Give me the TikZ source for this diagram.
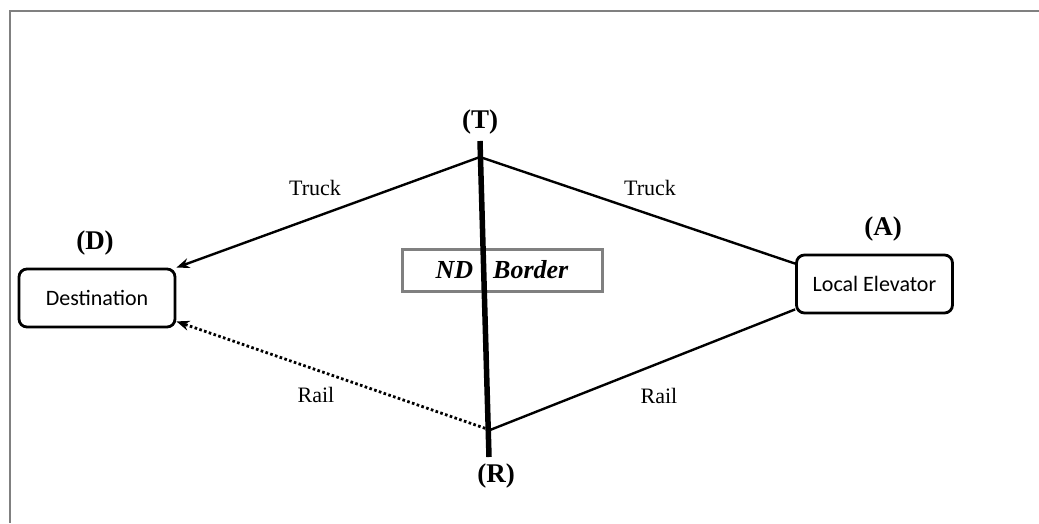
\documentclass[tikz,border=0pt]{standalone}
\usepackage{fontspec}
\setmainfont{Liberation Serif}
\newfontfamily\boxfont{Carlito}
\usetikzlibrary{arrows.meta}

\begin{document}
\begin{tikzpicture}[x=1pt, y=-1pt,
  place/.style={draw, line width=2.8pt, rounded corners=8pt, inner sep=0pt,
                minimum width=156pt, minimum height=58pt,
                font=\boxfont\fontsize{22}{26}\selectfont},
  route/.style={line width=2.4pt},
  railway/.style={line width=2.8pt, dash pattern=on 2.6pt off 2.4pt},
  tip/.style={-{Stealth[length=13pt, width=10pt]}},
  mode/.style={font=\fontsize{22}{26}\selectfont},
  tag/.style={font=\bfseries\fontsize{27}{30}\selectfont},
  borderbox/.style={draw=black!50, line width=3pt, inner sep=0pt,
                    minimum width=200pt, minimum height=42pt,
                    font=\bfseries\itshape\fontsize{26}{30}\selectfont}]
\useasboundingbox (0,0) rectangle (1039,523);

% page frame
\draw[black!50, line width=1.5pt] (1039,11) -- (10,11) -- (10,523);

% terminals
\node[place] (D) at (97,298) {Destination};
\node[place] (A) at (874.5,284) {Local Elevator};

% border crossing points
\coordinate (T) at (480,157);
\coordinate (R) at (490,430);
\coordinate (Ttop) at (480,141);
\coordinate (Rbot) at (489,457);

% state border
\node[borderbox] (nd) at (502,270) {ND\hspace{20pt}Border};
\draw[line width=5.5pt] (Ttop) -- (Rbot);

% routes
\draw[route, tip] (T) -- (D.north east);
\draw[route] (T) -- ([yshift=-10pt]A.north west);
\draw[route] (R) -- ([yshift=5pt]A.south west);
\draw[railway, tip] (R) -- ([yshift=7pt]D.south east);

% route labels
\node[mode] (t1) at (315,188) {Truck};
\node[mode] (t2) at (650,188) {Truck};
\node[mode] (r1) at (316,395) {Rail};
\node[mode] (r2) at (659,396) {Rail};

% point labels
\node[tag] (lD) at (95,243) {(D)};
\node[tag] (lA) at (883,229) {(A)};
\node[tag] (lT) at (480,122) {(T)};
\node[tag] (lR) at (496,476) {(R)};
\end{tikzpicture}
\end{document}
